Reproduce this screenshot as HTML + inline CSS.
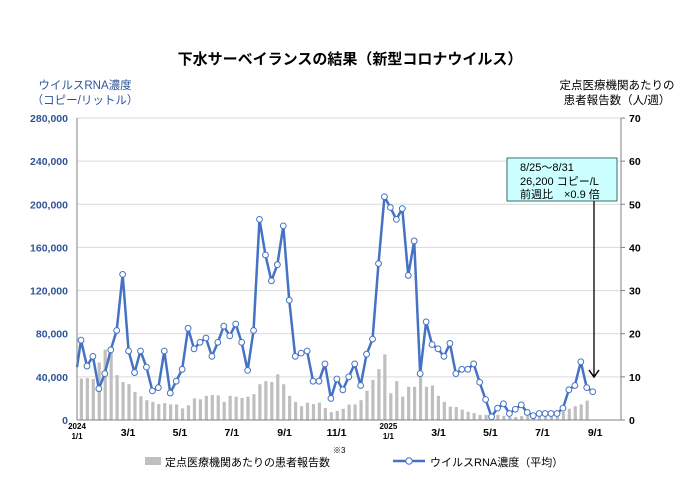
<!DOCTYPE html>
<html><head><meta charset="utf-8"><style>
body{margin:0;background:#fff;}
svg text{font-family:"Liberation Sans","Noto Sans CJK JP",sans-serif;}
</style></head><body>
<svg width="700" height="495" viewBox="0 0 700 495">
<text x="350" y="64" text-anchor="middle" font-size="15" font-weight="bold" fill="#000">下水サーベイランスの結果（新型コロナウイルス）</text>
<text x="85" y="89" text-anchor="middle" font-size="11.5" fill="#2f5597">ウイルスRNA濃度</text>
<text x="85" y="104" text-anchor="middle" font-size="11.5" fill="#2f5597">（コピー/リットル）</text>
<text x="617" y="89" text-anchor="middle" font-size="11.5" fill="#000">定点医療機関あたりの</text>
<text x="617" y="104" text-anchor="middle" font-size="11.5" fill="#000">患者報告数（人/週）</text>
<g id="grid"></g><g id="bars"></g><g id="line"></g><g id="axes"></g>
<rect x="507" y="158" width="110" height="43" fill="#ccffff" stroke="#3a6e6e" stroke-width="1"/>
<text x="520" y="171" font-size="11">8/25～8/31</text>
<text x="520" y="185" font-size="11">26,200 コピー/L</text>
<text x="520" y="198" font-size="11">前週比　×0.9 倍</text>
<line x1="594" y1="201" x2="594" y2="376" stroke="#000" stroke-width="1.3"/>
<polyline points="589,370 594,377 599,370" fill="none" stroke="#000" stroke-width="1.5"/>
<rect x="145" y="457" width="16" height="8" fill="#bfbfbf"/>
<text x="165" y="466" font-size="11">定点医療機関あたりの患者報告数</text>
<text x="333" y="453" font-size="8">※3</text>
<line x1="393" y1="461" x2="425" y2="461" stroke="#4472c4" stroke-width="2.5"/>
<circle cx="409" cy="461" r="3.2" fill="#fff" stroke="#4472c4" stroke-width="1"/>
<text x="430" y="466" font-size="11">ウイルスRNA濃度（平均）</text>
</svg>
<script>
const rnaK=[74,50,59,29,43,65,83,135,64,44,64,49,27,30,64,25,36,47,85,66,72,76,59,72,87,78,89,72,46,83,186,153,129,144,180,111,59,62,64,36,36,52,20,38,28,40,52,32,61,75,145,207,197,186,196,134,166,43,91,70,66,59,71,43,47,47,52,35,19,3,11,15,6,10,14,7,4,6,6,6,6,11,28,32,54,30,26.2];
const startK=[49];
const patients=[9.6,9.7,9.5,13.3,16.3,15.6,10.4,8.8,8.3,6.5,5.5,4.6,4.2,3.7,3.9,3.6,3.6,2.7,3.4,5.0,4.8,5.6,5.8,5.7,4.2,5.6,5.4,5.1,5.4,6.0,8.3,9.0,8.8,10.6,8.3,5.6,4.2,3.2,4.0,3.7,4.0,2.8,1.8,2.1,2.6,3.6,3.6,4.6,6.8,9.3,11.8,15.2,6.2,9.0,5.4,7.7,7.7,10.1,7.7,8.0,5.6,4.2,3.1,3.0,2.4,1.9,1.6,1.2,1.2,1.2,1.2,1.0,0.7,0.7,0.9,0.9,0.9,1.0,1.0,1.2,1.4,1.9,2.6,3.2,3.6,4.5];
const leftTicks=[0,40000,80000,120000,160000,200000,240000,280000];
const rightTicks=[0,10,20,30,40,50,60,70];
const xLabels=[["2024","1/1",0],["","3/1",60],["","5/1",121],["","7/1",182],["","9/1",244],["","11/1",305],["2025","1/1",366],["","3/1",425],["","5/1",486],["","7/1",547],["","9/1",609]];
const NS="http://www.w3.org/2000/svg";
const X0=77,X1=621,Y0=420,Y1=118;
const yL=v=>Y0-(v/280000)*(Y0-Y1);
const yR=v=>Y0-(v/70)*(Y0-Y1);
const xW=i=>81+i*5.95;
const xD=d=>X0+d*0.8508;
function mk(tag,at,parent){const e=document.createElementNS(NS,tag);for(const k in at)e.setAttribute(k,at[k]);document.getElementById(parent).appendChild(e);return e;}
leftTicks.forEach((t,i)=>{
 const y=yL(t);
 if(i>0){const g=mk('line',{x1:X0,x2:X1,y1:y,y2:y,stroke:'#d9d9d9','stroke-width':1},'grid');
 
 }
 const tx=mk('text',{x:68,y:y+4,'text-anchor':'end','font-size':10.5,'font-weight':'bold',fill:'#2f5597'},'axes');
 tx.textContent=t.toLocaleString('en-US');
 
 
});
rightTicks.forEach(t=>{
 const y=yR(t);
 mk('line',{x1:X1,x2:X1+4,y1:y,y2:y,stroke:'#808080'},'axes');
 const tx=mk('text',{x:629,y:y+4,'font-size':10.5,'font-weight':'bold',fill:'#000'},'axes');
 tx.textContent=t;
 
 
});
const ax=mk('line',{x1:X0,x2:X0,y1:Y1,y2:Y0,stroke:'#808080'},'axes');


const ar=mk('line',{x1:X1,x2:X1,y1:Y1,y2:Y0,stroke:'#808080'},'axes');


const ab=mk('line',{x1:X0,x2:X1,y1:Y0,y2:Y0,stroke:'#808080'},'axes');


xLabels.forEach(l=>{
 const x=xD(l[2]);
 if(l[0]){const a=mk('text',{x:x,y:429,'text-anchor':'middle','font-size':8,'font-weight':'bold'},'axes');a.textContent=l[0];
 
 
 const b=mk('text',{x:x,y:439,'text-anchor':'middle','font-size':8,'font-weight':'bold'},'axes');b.textContent=l[1];
 
 }
 else{const b=mk('text',{x:x,y:436,'text-anchor':'middle','font-size':10.5,'font-weight':'bold'},'axes');b.textContent=l[1];
 
 }
});
patients.forEach((v,i)=>{
 const y=yR(v);
 const r=mk('rect',{x:xW(i)-1.2,y:y,width:3.2,height:Y0-y,fill:'#bfbfbf'},'bars');
 
 
});
const pts=X0+','+yL(startK[0]*1000)+' '+rnaK.map((v,i)=>xW(i)+','+yL(v*1000)).join(' ');
const pl=mk('polyline',{points:pts,fill:'none',stroke:'#4472c4','stroke-width':2.5,'stroke-linejoin':'round'},'line');


rnaK.forEach((v,i)=>{
 const c=mk('circle',{cx:xW(i),cy:yL(v*1000),r:2.9,fill:'#fff',stroke:'#4472c4','stroke-width':1},'line');
 
 
});
</script>
</body></html>
